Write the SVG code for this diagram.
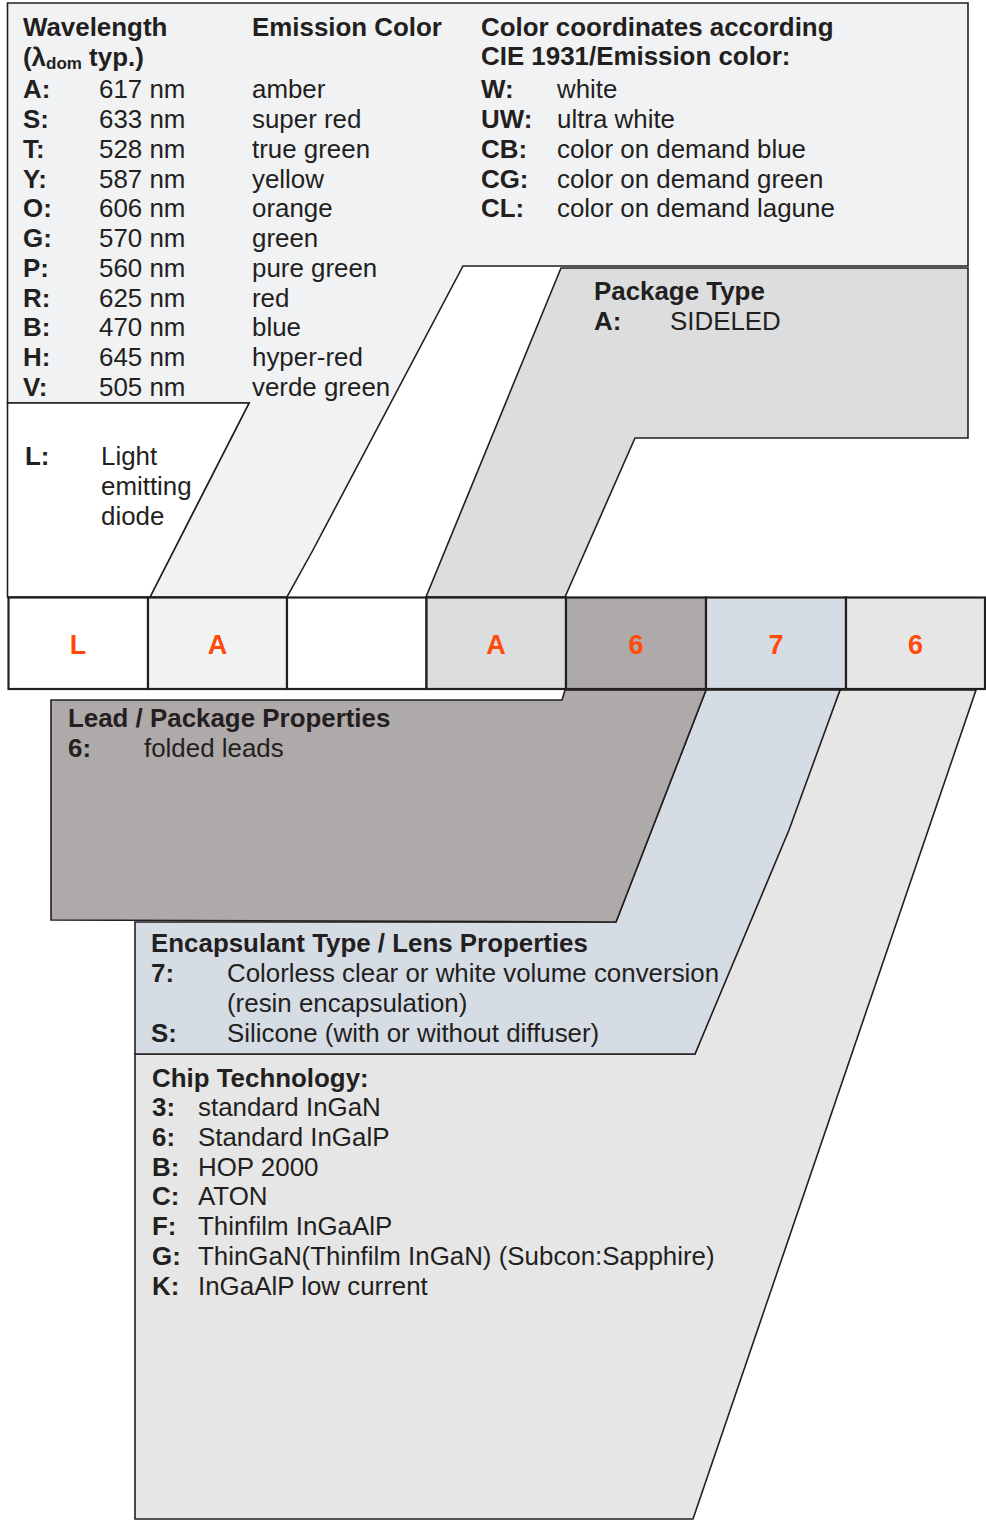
<svg xmlns="http://www.w3.org/2000/svg" width="986" height="1521" viewBox="0 0 986 1521">
<style>
.s{stroke:#231f20;stroke-width:1.6;stroke-linejoin:miter}
.t{font-family:"Liberation Sans",Arial,sans-serif;font-size:25.9px;fill:#231f20}
.b{font-weight:bold}
.k{font-family:"Liberation Sans",Arial,sans-serif;font-size:27px;font-weight:bold;fill:#ff4a0a;text-anchor:middle}
.box{stroke:#231f20;stroke-width:2.2}
</style>
<rect width="986" height="1521" fill="#ffffff"/>
<g id="chip-technology">
<polygon class="s" fill="#e6e6e6" points="135,1054 695,1054 840,690 976,690 693,1519 135,1519"/>
<text class="t b" x="152" y="1087">Chip Technology:</text>
<text class="t b" x="152" y="1116">3:</text><text class="t" x="198" y="1116">standard InGaN</text>
<text class="t b" x="152" y="1145.8">6:</text><text class="t" x="198" y="1145.8">Standard InGalP</text>
<text class="t b" x="152" y="1175.6">B:</text><text class="t" x="198" y="1175.6">HOP 2000</text>
<text class="t b" x="152" y="1205.4">C:</text><text class="t" x="198" y="1205.4">ATON</text>
<text class="t b" x="152" y="1235.2">F:</text><text class="t" x="198" y="1235.2">Thinfilm InGaAlP</text>
<text class="t b" x="152" y="1265">G:</text><text class="t" x="198" y="1265">ThinGaN(Thinfilm InGaN) (Subcon:Sapphire)</text>
<text class="t b" x="152" y="1294.8">K:</text><text class="t" x="198" y="1294.8">InGaAlP low current</text>
</g>
<g id="encapsulant-type">
<polygon class="s" fill="#d5dce4" points="135,922 616,922 706,690 840,690 789,830 695,1054 135,1054"/>
<text class="t b" x="151" y="952">Encapsulant Type / Lens Properties</text>
<text class="t b" x="151" y="982">7:</text><text class="t" x="227" y="982">Colorless clear or white volume conversion</text>
<text class="t" x="227" y="1011.5">(resin encapsulation)</text>
<text class="t b" x="151" y="1041.5">S:</text><text class="t" x="227" y="1041.5">Silicone (with or without diffuser)</text>
</g>
<g id="lead-package">
<polygon class="s" fill="#aeaaa9" points="51,700 562,700 565,690 706,690 616,922 51,920"/>
<text class="t b" x="68" y="727">Lead / Package Properties</text>
<text class="t b" x="68" y="756.5">6:</text><text class="t" x="144" y="756.5">folded leads</text>
</g>
<g id="wavelength-color">
<polygon class="s" fill="#f1f2f4" points="7.5,3 968,3 968,266 463,266 313,550 287,597 150,597 249,403 7.5,403"/>
<text class="t b" x="23" y="36">Wavelength</text>
<text class="t b" x="23" y="66">(λ<tspan font-size="17" dy="3">dom</tspan><tspan dy="-3"> typ.)</tspan></text>
<text class="t b" x="252" y="36">Emission Color</text>
<text class="t b" x="23" y="98.3">A:</text><text class="t" x="99" y="98.3">617 nm</text><text class="t" x="252" y="98.3">amber</text>
<text class="t b" x="23" y="128">S:</text><text class="t" x="99" y="128">633 nm</text><text class="t" x="252" y="128">super red</text>
<text class="t b" x="23" y="157.8">T:</text><text class="t" x="99" y="157.8">528 nm</text><text class="t" x="252" y="157.8">true green</text>
<text class="t b" x="23" y="187.5">Y:</text><text class="t" x="99" y="187.5">587 nm</text><text class="t" x="252" y="187.5">yellow</text>
<text class="t b" x="23" y="217.3">O:</text><text class="t" x="99" y="217.3">606 nm</text><text class="t" x="252" y="217.3">orange</text>
<text class="t b" x="23" y="247">G:</text><text class="t" x="99" y="247">570 nm</text><text class="t" x="252" y="247">green</text>
<text class="t b" x="23" y="276.8">P:</text><text class="t" x="99" y="276.8">560 nm</text><text class="t" x="252" y="276.8">pure green</text>
<text class="t b" x="23" y="306.5">R:</text><text class="t" x="99" y="306.5">625 nm</text><text class="t" x="252" y="306.5">red</text>
<text class="t b" x="23" y="336.3">B:</text><text class="t" x="99" y="336.3">470 nm</text><text class="t" x="252" y="336.3">blue</text>
<text class="t b" x="23" y="366">H:</text><text class="t" x="99" y="366">645 nm</text><text class="t" x="252" y="366">hyper-red</text>
<text class="t b" x="23" y="395.8">V:</text><text class="t" x="99" y="395.8">505 nm</text><text class="t" x="252" y="395.8">verde green</text>
<text class="t b" x="481" y="36">Color coordinates according</text>
<text class="t b" x="481" y="65">CIE 1931/Emission color:</text>
<text class="t b" x="481" y="98.3">W:</text><text class="t" x="557" y="98.3">white</text>
<text class="t b" x="481" y="128">UW:</text><text class="t" x="557" y="128">ultra white</text>
<text class="t b" x="481" y="157.8">CB:</text><text class="t" x="557" y="157.8">color on demand blue</text>
<text class="t b" x="481" y="187.5">CG:</text><text class="t" x="557" y="187.5">color on demand green</text>
<text class="t b" x="481" y="217.3">CL:</text><text class="t" x="557" y="217.3">color on demand lagune</text>
</g>
<g id="light-emitting-diode">
<polygon class="s" fill="#ffffff" points="7.5,403 249,403 150,597 7.5,597"/>
<text class="t b" x="25" y="465">L:</text>
<text class="t" x="101" y="465">Light</text>
<text class="t" x="101" y="495">emitting</text>
<text class="t" x="101" y="524.5">diode</text>
</g>
<g id="package-type">
<polygon class="s" fill="#dcdddf" points="561,268 968,268 968,438 635,438 565,597 426,597"/>
<text class="t b" x="594" y="300">Package Type</text>
<text class="t b" x="594" y="329.5">A:</text><text class="t" x="670" y="329.5">SIDELED</text>
</g>
<g id="code-boxes">
<rect class="box" x="8.5" y="597.5" width="139.5" height="91.5" fill="#ffffff"/>
<rect class="box" x="148" y="597.5" width="139" height="91.5" fill="#f1f2f4"/>
<rect class="box" x="287" y="597.5" width="139.5" height="91.5" fill="#ffffff"/>
<rect class="box" x="426.5" y="597.5" width="139.5" height="91.5" fill="#dcdddf"/>
<rect class="box" x="566" y="597.5" width="140" height="91.5" fill="#aeaaa9"/>
<rect class="box" x="706" y="597.5" width="140" height="91.5" fill="#d5dce4"/>
<rect class="box" x="846" y="597.5" width="139" height="91.5" fill="#e6e6e6"/>
<text class="k" x="78" y="653.5">L</text>
<text class="k" x="217.5" y="653.5">A</text>
<text class="k" x="496" y="653.5">A</text>
<text class="k" x="636" y="653.5">6</text>
<text class="k" x="776" y="653.5">7</text>
<text class="k" x="915.5" y="653.5">6</text>
</g>
<g id="connectors"></g>
</svg>
